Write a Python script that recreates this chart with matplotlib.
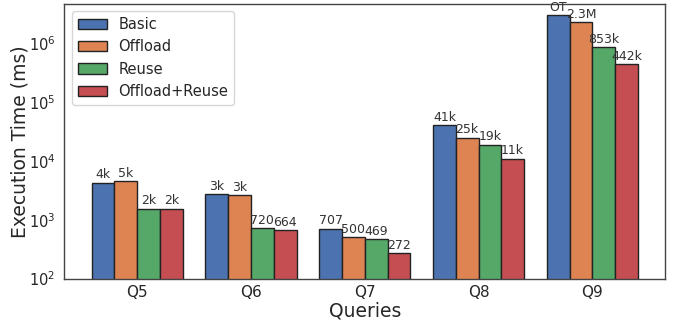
import matplotlib
matplotlib.use("Agg")
import matplotlib.pyplot as plt
import numpy as np
import seaborn as sns

sns.set_style("white")
plt.rcParams['font.family'] = ['DejaVu Sans']

queries = ["Q5", "Q6", "Q7", "Q8", "Q9"]
series = ["Basic", "Offload", "Reuse", "Offload+Reuse"]
basic = [4240, 2730, 707, 41000, 3000000]
offload = [4580, 2590, 500, 25000, 2300000]
reuse = [1550, 720, 469, 19000, 853000]
offload_reuse = [1550, 664, 272, 11000, 442000]
timed_out = [False, False, False, False, True]  # only Basic on Q9 hit the timeout

colors = ["#4C72B0", "#DD8452", "#55A868", "#C44E52"]


def fmt(v):
    if v >= 1e6:
        return f"{v / 1e6:.1f}M"
    if v >= 1e3:
        return f"{round(v / 1e3)}k"
    return f"{int(v)}"


fig, ax = plt.subplots(figsize=(6.78, 3.22), dpi=100)
x = np.arange(len(queries))
width = 0.2
data = [basic, offload, reuse, offload_reuse]
for i, (name, vals) in enumerate(zip(series, data)):
    pos = x + (i - 1.5) * width
    bars = ax.bar(pos, vals, width, label=name, color=colors[i],
                  edgecolor="#222222", linewidth=1.0)
    for j, (b, v) in enumerate(zip(bars, vals)):
        txt = "OT" if (i == 0 and timed_out[j]) else fmt(v)
        ax.annotate(txt, (b.get_x() + b.get_width() / 2, v),
                    xytext=(0, 1), textcoords="offset points",
                    ha="center", va="bottom", fontsize=9, color="#333333")

ax.set_yscale("log")
ax.set_ylim(100, 4.7e6)
ax.set_xticks(x)
ax.set_xticklabels(queries, fontsize=11)
ax.tick_params(axis="y", labelsize=10.5, pad=3)
ax.tick_params(axis="x", pad=1.5)
ax.set_xlabel("Queries", fontsize=13.5, labelpad=1)
ax.set_ylabel("Execution Time (ms)", fontsize=13.5)
ax.yaxis.set_label_coords(-0.058, 0.5)
for s in ax.spines.values():
    s.set_color("#444444")
    s.set_linewidth(1.0)
ax.legend(loc="upper left", fontsize=10.5, frameon=True)

fig.subplots_adjust(left=0.095, right=0.981, top=0.988, bottom=0.135)
fig.savefig("out.png", dpi=100)
